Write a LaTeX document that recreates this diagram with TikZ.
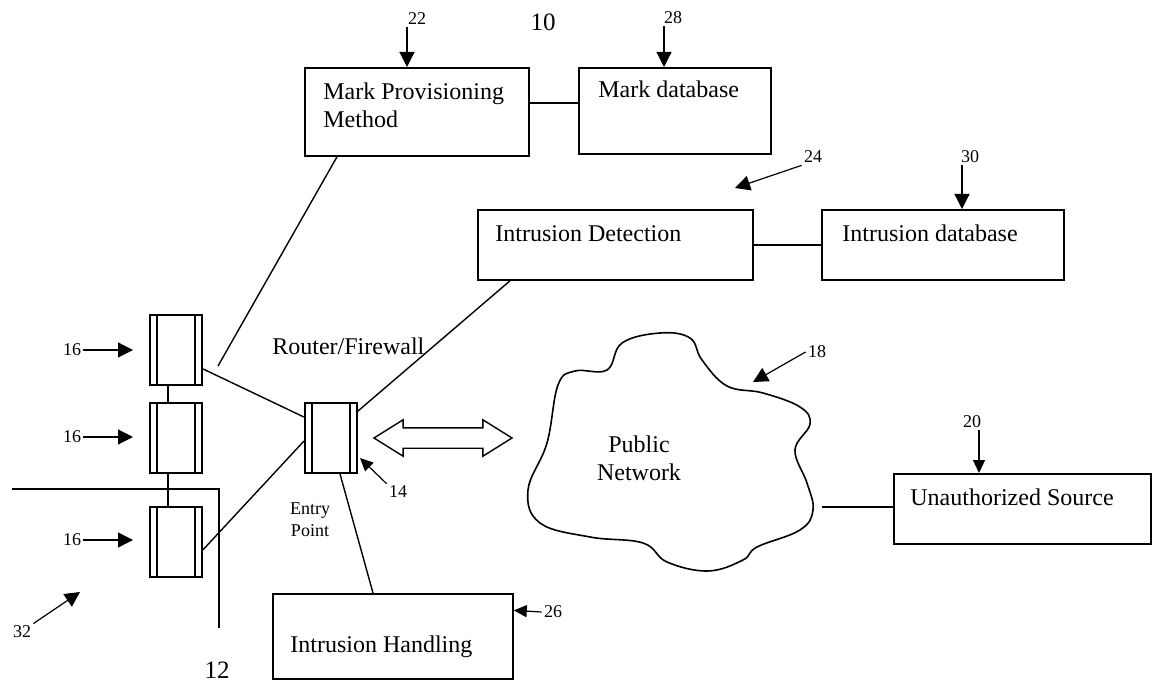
\documentclass[tikz,border=0pt]{standalone}
\usepackage{fontspec}
\setmainfont{Liberation Serif}
\usetikzlibrary{arrows.meta,calc,shapes.arrows}

\tikzset{
  box/.style={draw, line width=0.9pt, rectangle, inner sep=0pt, anchor=north west},
  boxtext/.style={anchor=base west, inner sep=0pt, align=left,
    font=\fontsize{12}{14}\selectfont},
  hub/.style={draw, line width=0.9pt, rectangle, inner sep=0pt,
    minimum width=26pt, minimum height=35pt,
    path picture={
      \draw[line width=0.7pt] ([xshift=3.5pt]path picture bounding box.north west)
        -- ([xshift=3.5pt]path picture bounding box.south west);
      \draw[line width=0.7pt] ([xshift=-3.5pt]path picture bounding box.north east)
        -- ([xshift=-3.5pt]path picture bounding box.south east);
    }},
  link/.style={line width=0.7pt},
  refnum/.style={inner sep=1pt, font=\fontsize{9}{10}\selectfont},
  bignum/.style={inner sep=1pt, font=\fontsize{12.5}{14}\selectfont},
  refarrow/.style={line width=0.6pt, -{Triangle[length=7.5pt,width=7.5pt]}},
  smallarrow/.style={line width=0.6pt, -{Triangle[length=6.5pt,width=6pt]}},
}

\begin{document}
\begin{tikzpicture}[x=0.5pt, y=-0.5pt]
  \useasboundingbox (0,0) rectangle (1152,684);

  % Boxes
  \node[box, minimum width=112pt, minimum height=44pt] (mpm) at (304,67) {};
  \node[box, minimum width=96pt, minimum height=43pt] (mdb) at (578,67) {};
  \node[box, minimum width=137.5pt, minimum height=35pt] (id) at (477,209) {};
  \node[box, minimum width=121pt, minimum height=35pt] (idb) at (821,209) {};
  \node[box, minimum width=128.5pt, minimum height=35pt] (us) at (893,473) {};
  \node[box, minimum width=120pt, minimum height=42.5pt] (ih) at (272,593) {};

  \node[boxtext] (mpmt) at ($(mpm.north west)+(19,61)$) {Mark Provisioning\\Method};
  \node[boxtext] (mdbt) at ($(mdb.north west)+(20,31)$) {Mark database};
  \node[boxtext] (idt) at ($(id.north west)+(18,33)$) {Intrusion Detection};
  \node[boxtext] (idbt) at ($(idb.north west)+(21,33)$) {Intrusion database};
  \node[boxtext] (ust) at ($(us.north west)+(17,32)$) {Unauthorized Source};
  \node[boxtext] (iht) at ($(ih.north west)+(18,59)$) {Intrusion Handling};

  % Hosts and entry point
  \node[hub] (h1) at (176,350) {};
  \node[hub] (h2) at (176,438) {};
  \node[hub] (h3) at (176,542) {};
  \node[hub] (rt) at (331,438) {};
  \node[boxtext] (rtt) at (272,355) {Router/Firewall};
  \node[align=center, inner sep=0pt, font=\fontsize{9}{11}\selectfont] (ep) at (310,520) {Entry\\Point};

  % Public network
  \draw[line width=0.8pt] plot[smooth cycle, tension=0.65] coordinates {
    (607,370) (622,343) (660,333) (690,338) (702,360) (727,386)
    (763,393) (800,407) (810,424) (795,450) (807,483) (813,510)
    (800,530) (757,547) (743,560) (708,571) (667,562) (643,543)
    (590,537) (540,523) (528,490) (547,443) (558,385) (575,371)};
  \node[align=center, inner sep=0pt, font=\fontsize{12}{14}\selectfont] (pn) at (639,458) {Public\\Network};
  \coordinate (cloudE) at (822,507);

  \node[double arrow, draw, line width=0.7pt, minimum height=69pt,
    inner xsep=0pt, inner ysep=4.75pt,
    double arrow head extend=4pt, double arrow tip angle=64] (da) at (443,438) {};

  % Connectors
  \draw[link] ([yshift=4.5pt]mpm.east) -- ([yshift=4.5pt]mpm.east -| mdb.west);
  \draw[link] (id.east) -- (idb.west);
  \draw[link] (cloudE) -- (cloudE -| us.west);
  \coordinate (mpmEnd) at (218,366);
  \draw[link] ([xshift=16.5pt]mpm.south west) -- (mpmEnd);
  \draw[link] ([xshift=16.5pt]id.south west) -- ([yshift=-4.5pt]rt.north east);
  \draw[link] ([yshift=8.5pt]h1.south east) -- ([yshift=-7.5pt]rt.north west);
  \draw[link] ([yshift=14pt]h3.south east) -- ([yshift=16.5pt]rt.south west);
  \draw[link] ([xshift=4.5pt]rt.south) -- ([xshift=50.5pt]ih.north west);
  \draw[link] ([xshift=-4pt]h1.south) -- ([xshift=-4pt]h2.north);
  \draw[link] ([xshift=-4pt]h2.south) -- ([xshift=-4pt]h3.north);
  \draw[link] (12,489) -- (219,489) -- (219,628);

  % Reference numerals
  \node[bignum] (n10) at (543,22) {10};
  \node[bignum] (n12) at (217,670) {12};
  \node[refnum] (n22) at (417,19) {22};
  \node[refnum] (n28) at (673,18) {28};
  \node[refnum] (n24) at (813,157) {24};
  \node[refnum] (n30) at (970,157) {30};
  \node[refnum] (n18) at (817,352) {18};
  \node[refnum] (n20) at (972,422) {20};
  \node[refnum] (n14) at (398,492) {14};
  \node[refnum] (n26) at (553,612) {26};
  \node[refnum] (n32) at (22,632) {32};
  \node[refnum] (n16a) at (72,350) {16};
  \node[refnum] (n16b) at (72,437) {16};
  \node[refnum] (n16c) at (72,540) {16};

  \coordinate (t24) at (735,188);
  \coordinate (t18) at (753,382);
  \coordinate (t14) at (360,458);
  \coordinate (t32) at (80,592);
  \coordinate (t16a) at (133,350);
  \coordinate (t16b) at (133,437);
  \coordinate (t16c) at (133,540);

  \draw[refarrow] ([xshift=-5pt]n22.south) -- ([xshift=51.5pt]mpm.north west);
  \draw[refarrow] ([xshift=-4.5pt]n28.south) -- ([xshift=43pt]mdb.north west);
  \draw[refarrow] (n24.south west) -- (t24);
  \draw[refarrow] ([xshift=-4pt]n30.south) -- ([xshift=70.5pt]idb.north west);
  \draw[refarrow] (n18.west) -- (t18);
  \draw[smallarrow] ([xshift=3.5pt]n20.south) -- ([xshift=43pt]us.north west);
  \draw[smallarrow] (n14.north west) -- (t14);
  \draw[smallarrow] (n26.west) -- ([yshift=13pt]ih.east);
  \draw[refarrow] (n32.north east) -- (t32);
  \foreach \k in {a,b,c}
    \draw[refarrow] (n16\k.east) -- (t16\k);
\end{tikzpicture}
\end{document}
